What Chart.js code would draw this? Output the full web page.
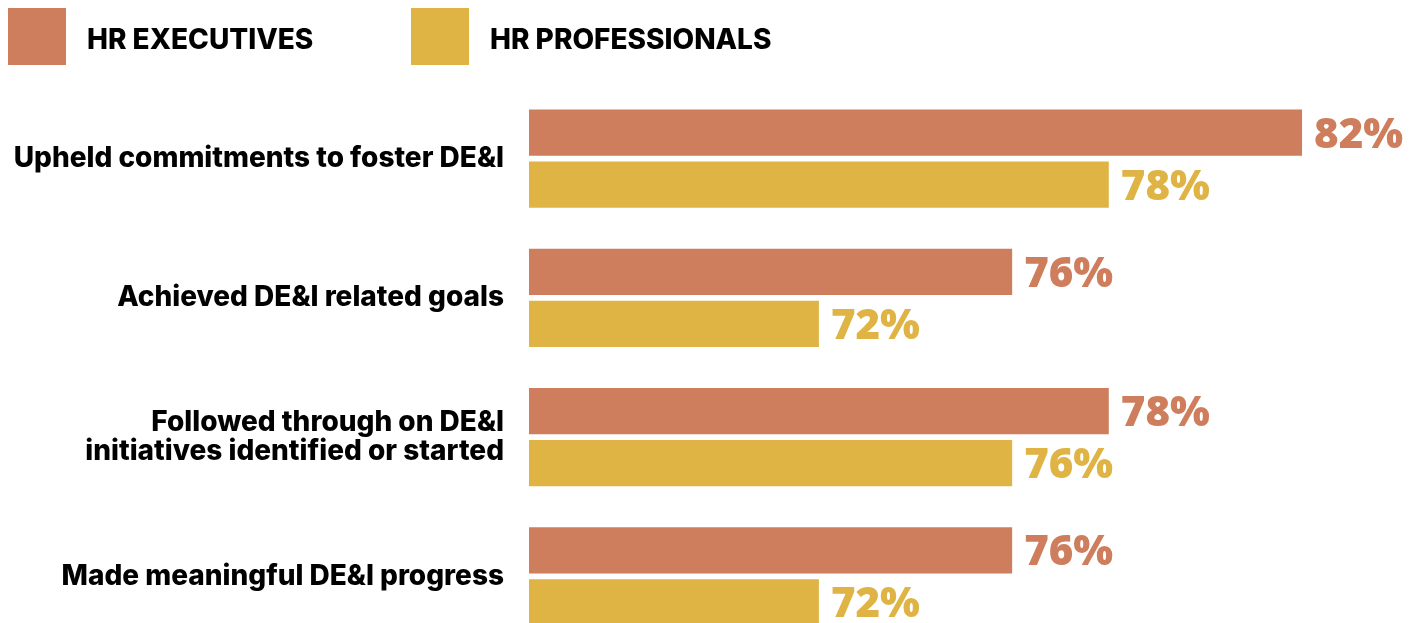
<!DOCTYPE html>
<html>
<head>
<meta charset="utf-8">
<title>DE&amp;I commitments</title>
<script src="https://cdn.jsdelivr.net/npm/chart.js@4.4.0/dist/chart.umd.min.js"></script>
<style>
  html, body { margin: 0; padding: 0; background: #fff; overflow: hidden; }
  canvas { display: block; }
</style>
</head>
<body>
<canvas id="deiChart" width="1418" height="646"></canvas>
<script>
// data
const categories = [
  'Upheld commitments to foster DE&I',
  'Achieved DE&I related goals',
  ['Followed through on DE&I', 'initiatives identified or started'],
  'Made meaningful DE&I progress'
];
const hrExecutives = [82, 76, 78, 76];
const hrProfessionals = [78, 72, 76, 72];
const seriesNames = ['HR EXECUTIVES', 'HR PROFESSIONALS'];
const seriesColors = ['#CE7E5C', '#DFB445'];

const LABEL_FONT = 'Inter, Lato, sans-serif';
const VALUE_FONT = '"Open Sans", Inter, sans-serif';

// square legend at the top left
const topLegend = {
  id: 'topLegend',
  afterDraw(chart) {
    const ctx = chart.ctx;
    const boxX = [8, 411];
    ctx.save();
    ctx.font = '800 28px ' + LABEL_FONT;
    ctx.textBaseline = 'alphabetic';
    ctx.textAlign = 'left';
    chart.data.datasets.forEach((ds, i) => {
      ctx.fillStyle = ds.backgroundColor;
      ctx.fillRect(boxX[i], 8, 58, 57);
      ctx.fillStyle = '#000';
      ctx.fillText(ds.label, boxX[i] + 79, 49);
    });
    ctx.restore();
  }
};

// percentage at the end of each bar
const valueLabels = {
  id: 'valueLabels',
  afterDatasetsDraw(chart) {
    const ctx = chart.ctx;
    ctx.save();
    ctx.font = '800 42px ' + VALUE_FONT;
    ctx.textAlign = 'left';
    ctx.textBaseline = 'alphabetic';
    chart.data.datasets.forEach((ds, i) => {
      chart.getDatasetMeta(i).data.forEach((bar, j) => {
        ctx.fillStyle = ds.backgroundColor;
        ctx.fillText(ds.data[j] + '%', bar.x + 12, bar.y + 15);
      });
    });
    ctx.restore();
  }
};

const ctx = document.getElementById('deiChart').getContext('2d');
const deiChart = new Chart(ctx, {
  type: 'bar',
  data: {
    labels: categories,
    datasets: [
      { label: seriesNames[0], data: hrExecutives, backgroundColor: seriesColors[0] },
      { label: seriesNames[1], data: hrProfessionals, backgroundColor: seriesColors[1] }
    ]
  },
  options: {
    indexAxis: 'y',
    responsive: false,
    animation: false,
    categoryPercentage: 0.747,
    barPercentage: 0.885,
    layout: { padding: { top: 89, right: 0, bottom: 0, left: 0 } },
    scales: {
      x: { display: false, min: 66, max: 84.4 },
      y: {
        grid: { display: false, drawTicks: false },
        border: { display: false },
        ticks: {
          color: '#000',
          padding: 25,
          font: { family: LABEL_FONT, size: 28, weight: 800, lineHeight: 1.01 }
        },
        afterFit(scale) {
          // fixed label column, and no extra room above/below for the labels
          scale.width = 529;
          scale.paddingTop = 0;
          scale.paddingBottom = 0;
        }
      }
    },
    plugins: {
      legend: { display: false },
      tooltip: { enabled: false }
    }
  },
  plugins: [topLegend, valueLabels]
});
</script>
</body>
</html>
